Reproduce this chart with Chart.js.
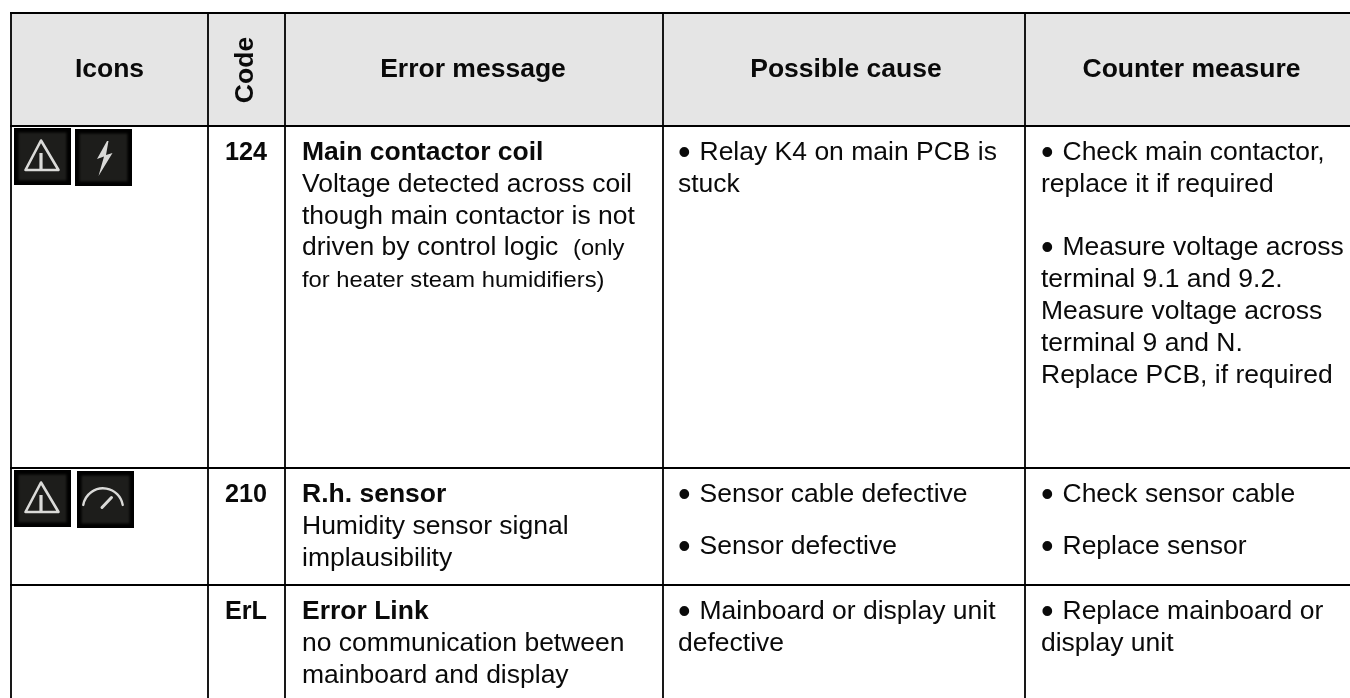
<!DOCTYPE html>
<html><head><meta charset="utf-8">
<style>html,body{margin:0;padding:0;background:#fff;overflow:hidden}#wrap{position:absolute;left:0;top:0;width:1350px;height:698px}</style>
<script src="https://cdn.jsdelivr.net/npm/chart.js@4"></script>
</head><body><div id="wrap"><canvas id="c"></canvas></div>
<script>
const columnEdges = [11, 208, 285, 663, 1025, 1350];
const rowEdges = [13, 126, 468, 585, 698];
const headers = ['Icons', 'Code', 'Error message', 'Possible cause', 'Counter measure'];
const codes = ['124', '210', 'ErL'];
const errorTitles = ['Main contactor coil', 'R.h. sensor', 'Error Link'];
const errorBodies = [
  [['Voltage detected across coil', 0], ['though main contactor is not', 0], ['driven by control logic  ', 0, '(only'], ['for heater steam humidifiers)', 1]],
  [['Humidity sensor signal', 0], ['implausibility', 0]],
  [['no communication between', 0], ['mainboard and display', 0]]
];
const causes = [
  [['\u2022 Relay K4 on main PCB is', 160], ['stuck', 192]],
  [['\u2022 Sensor cable defective', 502], ['\u2022 Sensor defective', 554]],
  [['\u2022 Mainboard or display unit', 619], ['defective', 651]]
];
const measures = [
  [['\u2022 Check main contactor,', 160], ['replace it if required', 192], ['\u2022 Measure voltage across', 255], ['terminal 9.1 and 9.2.', 287], ['Measure voltage across', 319], ['terminal 9 and N.', 351], ['Replace PCB, if required', 383]],
  [['\u2022 Check sensor cable', 502], ['\u2022 Replace sensor', 554]],
  [['\u2022 Replace mainboard or', 619], ['display unit', 651]]
];
const FONT = '"Liberation Sans", Arial, sans-serif';
const titleY = [160, 502, 619];
const bodyY = [[192, 224, 255, 287], [534, 566], [651, 683]];
const iconRows = [['warn', 'bolt'], ['warn', 'gauge'], []];
const iconTops = [[128, 129], [470, 471]];
const iconLefts = [[14, 75], [14, 77]];

function ruleDatasets() {
  const ds = [];
  const lastX = columnEdges[columnEdges.length - 1], lastY = rowEdges[rowEdges.length - 1];
  rowEdges.slice(0, -1).forEach(y => ds.push({ data: [{ x: columnEdges[0] - 1, y }, { x: lastX, y }] }));
  columnEdges.slice(0, -1).forEach(x => ds.push({ data: [{ x, y: rowEdges[0] }, { x, y: lastY }] }));
  return ds.map(d => Object.assign(d, { type: 'line', borderColor: '#000', borderWidth: 1.8, pointRadius: 0, fill: false, tension: 0 }));
}
function drawIcon(ctx, kind, px, py, s) {
  ctx.save();
  ctx.translate(px, py);
  ctx.fillStyle = '#000'; ctx.fillRect(0, 0, s, s);
  ctx.filter = 'blur(1px)';
  ctx.fillStyle = '#1d1d1b'; ctx.fillRect(4.5, 4.5, s - 9, s - 9);
  ctx.filter = 'blur(0.6px)';
  ctx.strokeStyle = '#dadad8'; ctx.fillStyle = '#dadad8'; ctx.lineWidth = 2.6; ctx.lineJoin = 'round'; ctx.lineCap = 'round';
  if (kind === 'warn') {
    ctx.beginPath(); ctx.moveTo(27, 12.5); ctx.lineTo(44.5, 42); ctx.lineTo(11.5, 42); ctx.closePath(); ctx.stroke();
    ctx.lineWidth = 3.2; ctx.lineCap = 'butt'; ctx.beginPath(); ctx.moveTo(27, 25); ctx.lineTo(27, 41); ctx.stroke();
  } else if (kind === 'bolt') {
    ctx.beginPath(); ctx.moveTo(32, 12); ctx.lineTo(22, 30); ctx.lineTo(29, 27.5); ctx.lineTo(23.5, 47);
    ctx.lineTo(37.5, 24); ctx.lineTo(31, 26); ctx.lineTo(33.5, 12); ctx.closePath();
    ctx.fill();
  } else {
    ctx.lineWidth = 2.4; ctx.beginPath(); ctx.arc(26, 37.3, 20, Math.PI + 0.17, 2 * Math.PI - 0.17); ctx.stroke();
    ctx.lineWidth = 3; ctx.beginPath(); ctx.moveTo(25, 36.5); ctx.lineTo(34.5, 26.5); ctx.stroke();
  }
  ctx.restore();
}
const tablePlugin = {
  id: 'tablePlugin',
  beforeDatasetsDraw(chart) {
    const { ctx, scales: { x, y } } = chart;
    ctx.save();
    ctx.fillStyle = '#e5e5e5';
    ctx.fillRect(x.getPixelForValue(columnEdges[0]), y.getPixelForValue(rowEdges[0]),
      x.getPixelForValue(columnEdges[5]) - x.getPixelForValue(columnEdges[0]),
      y.getPixelForValue(rowEdges[1]) - y.getPixelForValue(rowEdges[0]));
    ctx.restore();
  },
  afterDatasetsDraw(chart) {
    const { ctx, scales: { x, y } } = chart;
    const hs = 26.5, bs = 25.2, ss = 22.6, widen = 1.052;
    const B = s => 'bold ' + s + 'px ' + FONT, R = s => s + 'px ' + FONT;
    const put = (t, px, py, font, align, sx) => {
      ctx.save();
      ctx.translate(x.getPixelForValue(px), y.getPixelForValue(py));
      ctx.scale(sx || 1, 1);
      ctx.font = font; ctx.textAlign = align || 'left'; ctx.textBaseline = 'alphabetic';
      ctx.fillText(t, 0, 0);
      ctx.restore();
    };
    const putBody = (t, px, py) => {
      if (t.startsWith('\u2022 ')) {
        put('\u2022', px, py + 4, R(36));
        put(t.slice(2), px + 21.5, py, R(bs), 'left', widen);
      } else put(t, px, py, R(bs), 'left', widen);
    };
    ctx.save();
    ctx.fillStyle = '#0a0a0a';
    [0, 2, 3, 4].forEach(i => put(headers[i], (columnEdges[i] + columnEdges[i + 1]) / 2 + (i === 3 ? 2 : i === 4 ? 4 : i === 2 ? -1 : 0), 77, B(hs), 'center'));
    ctx.save();
    ctx.translate(x.getPixelForValue(253), y.getPixelForValue(70));
    ctx.rotate(-Math.PI / 2);
    ctx.font = B(hs); ctx.textAlign = 'center'; ctx.textBaseline = 'alphabetic';
    ctx.fillText(headers[1], 0, 0);
    ctx.restore();
    codes.forEach((c, r) => {
      put(c, 246, titleY[r], B(bs), 'center');
      put(errorTitles[r], 302, titleY[r], B(bs), 'left', widen);
      errorBodies[r].forEach((l, i) => {
        if (l[1]) put(l[0], 302, bodyY[r][i], R(ss), 'left', widen);
        else putBody(l[0], 302, bodyY[r][i]);
        if (l[2]) {
          ctx.font = R(bs);
          put(l[2], 302 + ctx.measureText(l[0]).width * widen, bodyY[r][i], R(ss), 'left', widen);
        }
      });
      causes[r].forEach(l => putBody(l[0], 678, l[1]));
      measures[r].forEach(l => putBody(l[0], 1041, l[1]));
    });
    iconRows.forEach((row, r) => row.forEach((k, i) => drawIcon(ctx, k, x.getPixelForValue(iconLefts[r][i]), y.getPixelForValue(iconTops[r][i]), 57)));
    ctx.restore();
  }
};
new Chart(document.getElementById('c'), {
  type: 'scatter',
  data: { datasets: ruleDatasets() },
  options: {
    responsive: true, maintainAspectRatio: false, animation: false,
    layout: { padding: 0 },
    plugins: { legend: { display: false }, tooltip: { enabled: false } },
    scales: {
      x: { type: 'linear', display: false, min: 0, max: 1350 },
      y: { type: 'linear', display: false, min: 0, max: 698, reverse: true }
    }
  },
  plugins: [tablePlugin]
});
</script></body></html>
